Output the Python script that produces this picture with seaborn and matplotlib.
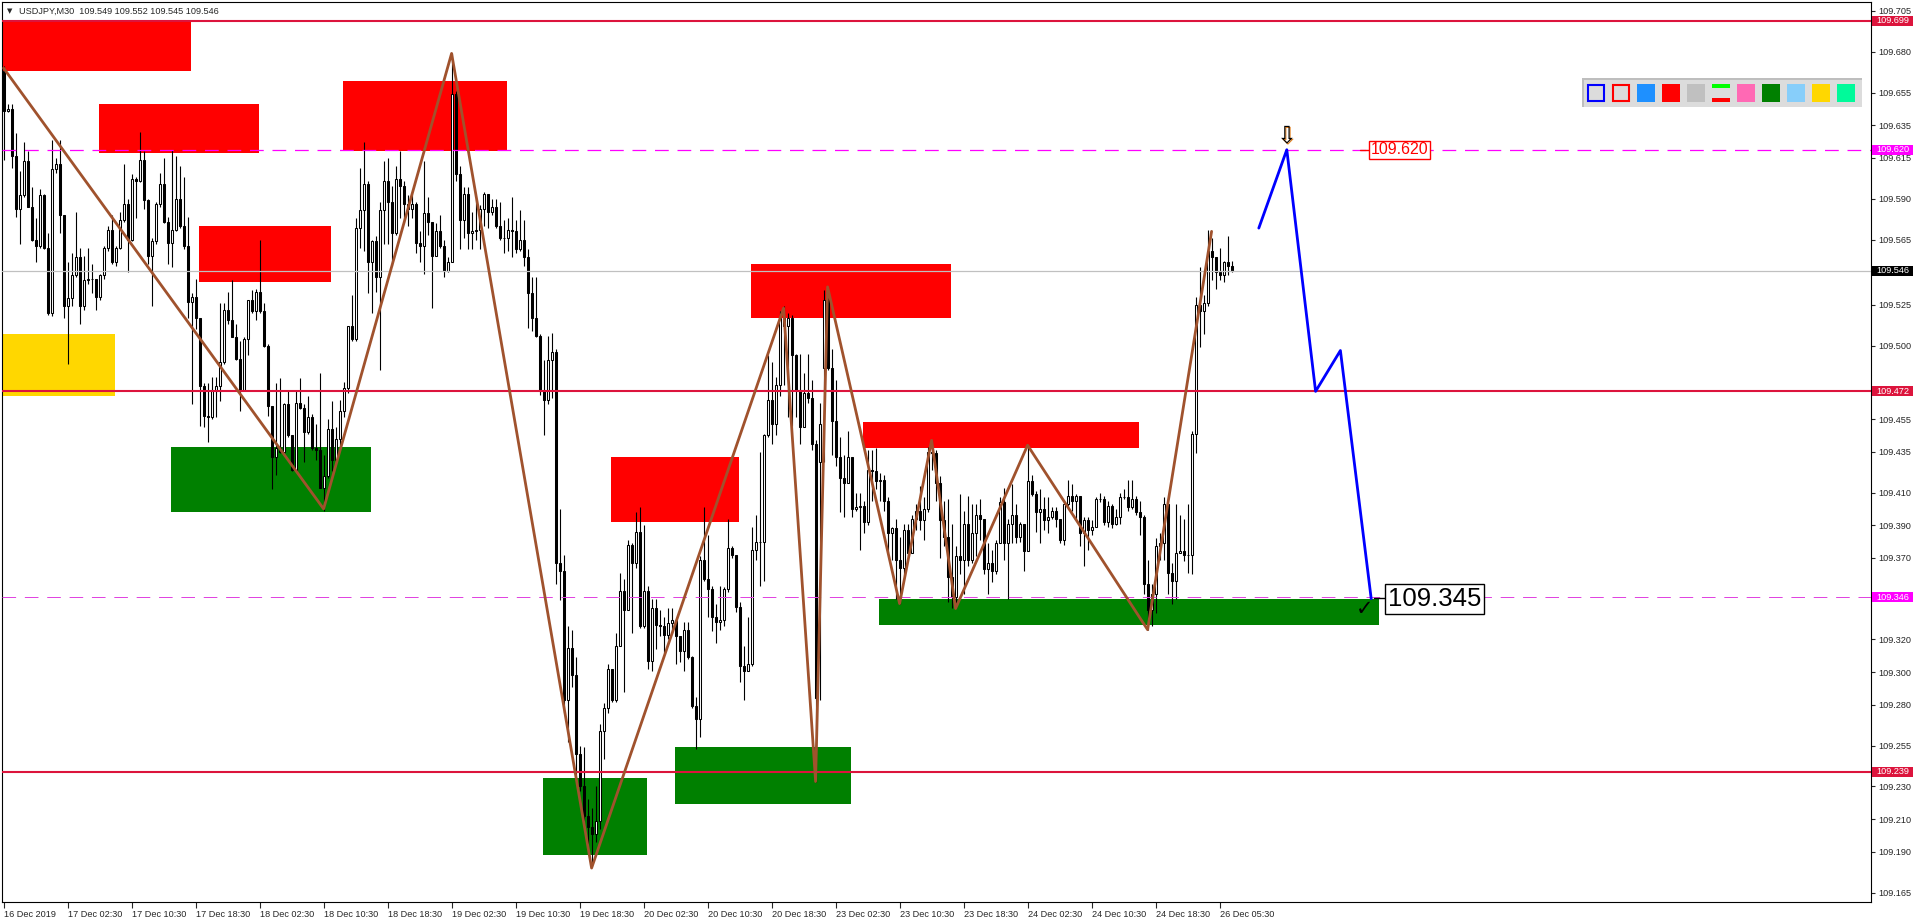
# %%
import numpy as np
import pandas as pd
import seaborn as sns
import matplotlib.pyplot as plt
from matplotlib.patches import Rectangle
from matplotlib.transforms import blended_transform_factory

# %% USDJPY M30 bars (bar 0 = 16 Dec 18:30)
opens = [
    109.668, 109.644, 109.645, 109.616, 109.584, 109.592, 109.613, 109.585, 109.565, 109.561,
    109.592, 109.560, 109.520, 109.608, 109.611, 109.580, 109.524, 109.529, 109.543, 109.554,
    109.524, 109.540, 109.541, 109.541, 109.530, 109.543, 109.560, 109.571, 109.551, 109.560,
    109.577, 109.587, 109.565, 109.602, 109.601, 109.614, 109.589, 109.555, 109.564, 109.587,
    109.599, 109.576, 109.563, 109.571, 109.590, 109.573, 109.561, 109.527, 109.530, 109.517,
    109.475, 109.457, 109.456, 109.472, 109.475, 109.490, 109.522, 109.516, 109.505, 109.492,
    109.473, 109.504, 109.528, 109.521, 109.533, 109.521, 109.500, 109.463, 109.432, 109.437,
    109.435, 109.464, 109.445, 109.424, 109.465, 109.462, 109.447, 109.456, 109.437, 109.436,
    109.413, 109.420, 109.449, 109.430, 109.443, 109.460, 109.474, 109.512, 109.504, 109.572,
    109.583, 109.599, 109.551, 109.564, 109.542, 109.583, 109.601, 109.588, 109.569, 109.602,
    109.598, 109.587, 109.584, 109.587, 109.563, 109.561, 109.581, 109.576, 109.555, 109.570,
    109.561, 109.546, 109.551, 109.654, 109.605, 109.577, 109.593, 109.569, 109.570, 109.571,
    109.584, 109.593, 109.582, 109.585, 109.573, 109.566, 109.566, 109.571, 109.570, 109.559,
    109.565, 109.554, 109.532, 109.517, 109.506, 109.472, 109.467, 109.491, 109.496, 109.367,
    109.362, 109.283, 109.315, 109.298, 109.250, 109.230, 109.212, 109.205, 109.201, 109.209,
    109.264, 109.278, 109.302, 109.283, 109.316, 109.350, 109.338, 109.378, 109.367, 109.386,
    109.328, 109.350, 109.307, 109.339, 109.329, 109.328, 109.323, 109.330, 109.332, 109.322,
    109.313, 109.326, 109.309, 109.279, 109.271, 109.369, 109.357, 109.351, 109.334, 109.331,
    109.332, 109.351, 109.376, 109.372, 109.340, 109.304, 109.301, 109.305, 109.375, 109.380,
    109.380, 109.445, 109.467, 109.452, 109.476, 109.517, 109.512, 109.517, 109.494, 109.473,
    109.450, 109.471, 109.468, 109.440, 109.429, 109.486, 109.528, 109.486, 109.454, 109.432,
    109.419, 109.416, 109.432, 109.400, 109.401, 109.402, 109.392, 109.424, 109.423, 109.417,
    109.418, 109.405, 109.385, 109.388, 109.369, 109.364, 109.387, 109.373, 109.394, 109.399,
    109.393, 109.400, 109.435, 109.434, 109.416, 109.393, 109.383, 109.358, 109.346, 109.371,
    109.369, 109.391, 109.369, 109.385, 109.396, 109.394, 109.363, 109.367, 109.362, 109.379,
    109.404, 109.379, 109.391, 109.396, 109.383, 109.391, 109.374, 109.417, 109.409, 109.398,
    109.400, 109.393, 109.395, 109.399, 109.394, 109.381, 109.403, 109.408, 109.405, 109.408,
    109.385, 109.393, 109.387, 109.389, 109.406, 109.406, 109.392, 109.402, 109.391, 109.395,
    109.407, 109.407, 109.401, 109.406, 109.398, 109.395, 109.354, 109.338, 109.348, 109.377,
    109.379, 109.403, 109.361, 109.356, 109.373, 109.374, 109.372, 109.372, 109.446, 109.525,
    109.521, 109.526, 109.558, 109.554, 109.545, 109.543, 109.551, 109.549]
highs = [
    109.671, 109.648, 109.648, 109.630, 109.607, 109.625, 109.619, 109.597, 109.578, 109.596,
    109.593, 109.569, 109.626, 109.615, 109.626, 109.580, 109.551, 109.557, 109.582, 109.560,
    109.555, 109.560, 109.550, 109.541, 109.544, 109.561, 109.573, 109.580, 109.561, 109.582,
    109.611, 109.590, 109.605, 109.603, 109.631, 109.619, 109.590, 109.566, 109.588, 109.606,
    109.615, 109.579, 109.620, 109.616, 109.610, 109.603, 109.579, 109.532, 109.541, 109.517,
    109.477, 109.477, 109.481, 109.481, 109.526, 109.526, 109.533, 109.540, 109.513, 109.503,
    109.505, 109.528, 109.534, 109.535, 109.565, 109.526, 109.501, 109.463, 109.477, 109.480,
    109.465, 109.472, 109.445, 109.473, 109.480, 109.464, 109.469, 109.458, 109.452, 109.483,
    109.433, 109.455, 109.466, 109.450, 109.467, 109.478, 109.512, 109.531, 109.578, 109.609,
    109.625, 109.601, 109.565, 109.567, 109.588, 109.613, 109.615, 109.598, 109.610, 109.619,
    109.601, 109.592, 109.593, 109.588, 109.570, 109.613, 109.591, 109.576, 109.575, 109.580,
    109.565, 109.554, 109.679, 109.656, 109.610, 109.597, 109.597, 109.582, 109.590, 109.586,
    109.594, 109.593, 109.590, 109.590, 109.588, 109.577, 109.578, 109.591, 109.577, 109.583,
    109.577, 109.559, 109.542, 109.542, 109.507, 109.491, 109.506, 109.508, 109.498, 109.400,
    109.372, 109.328, 109.326, 109.309, 109.255, 109.254, 109.222, 109.217, 109.230, 109.268,
    109.281, 109.305, 109.302, 109.324, 109.361, 109.357, 109.381, 109.379, 109.398, 109.401,
    109.390, 109.353, 109.345, 109.345, 109.338, 109.334, 109.339, 109.339, 109.332, 109.322,
    109.331, 109.331, 109.310, 109.285, 109.371, 109.401, 109.384, 109.353, 109.342, 109.353,
    109.352, 109.394, 109.377, 109.372, 109.343, 109.316, 109.334, 109.389, 109.396, 109.435,
    109.446, 109.494, 109.490, 109.481, 109.521, 109.524, 109.520, 109.519, 109.495, 109.495,
    109.483, 109.495, 109.479, 109.442, 109.465, 109.534, 109.536, 109.498, 109.479, 109.444,
    109.433, 109.448, 109.432, 109.410, 109.410, 109.405, 109.436, 109.436, 109.437, 109.422,
    109.421, 109.407, 109.389, 109.394, 109.383, 109.391, 109.391, 109.396, 109.403, 109.414,
    109.407, 109.438, 109.442, 109.436, 109.420, 109.405, 109.406, 109.391, 109.377, 109.409,
    109.399, 109.408, 109.403, 109.403, 109.406, 109.394, 109.379, 109.375, 109.381, 109.407,
    109.413, 109.394, 109.415, 109.403, 109.392, 109.390, 109.439, 109.421, 109.411, 109.412,
    109.407, 109.407, 109.401, 109.401, 109.394, 109.404, 109.418, 109.415, 109.409, 109.407,
    109.395, 109.395, 109.393, 109.407, 109.410, 109.408, 109.405, 109.403, 109.400, 109.410,
    109.412, 109.418, 109.418, 109.408, 109.405, 109.396, 109.369, 109.354, 109.382, 109.385,
    109.407, 109.403, 109.367, 109.403, 109.396, 109.394, 109.403, 109.448, 109.530, 109.548,
    109.531, 109.571, 109.566, 109.552, 109.560, 109.552, 109.567, 109.552]
lows = [
    109.614, 109.643, 109.609, 109.579, 109.562, 109.591, 109.585, 109.564, 109.551, 109.560,
    109.559, 109.519, 109.518, 109.606, 109.569, 109.517, 109.489, 109.524, 109.542, 109.513,
    109.522, 109.538, 109.532, 109.522, 109.528, 109.541, 109.558, 109.550, 109.549, 109.559,
    109.576, 109.545, 109.564, 109.578, 109.600, 109.584, 109.550, 109.524, 109.562, 109.585,
    109.575, 109.550, 109.548, 109.570, 109.572, 109.559, 109.517, 109.464, 109.510, 109.451,
    109.450, 109.441, 109.455, 109.456, 109.466, 109.489, 109.513, 109.505, 109.491, 109.460,
    109.472, 109.494, 109.520, 109.516, 109.520, 109.499, 109.457, 109.412, 109.421, 109.434,
    109.434, 109.444, 109.423, 109.423, 109.461, 109.429, 109.446, 109.436, 109.430, 109.413,
    109.399, 109.419, 109.423, 109.427, 109.437, 109.456, 109.471, 109.503, 109.503, 109.560,
    109.558, 109.532, 109.520, 109.533, 109.485, 109.562, 109.562, 109.549, 109.568, 109.578,
    109.575, 109.573, 109.578, 109.557, 109.551, 109.544, 109.568, 109.523, 109.555, 109.560,
    109.542, 109.545, 109.551, 109.601, 109.559, 109.566, 109.559, 109.559, 109.565, 109.559,
    109.573, 109.572, 109.580, 109.572, 109.565, 109.557, 109.558, 109.554, 109.557, 109.558,
    109.549, 109.511, 109.509, 109.505, 109.470, 109.445, 109.464, 109.468, 109.354, 109.344,
    109.275, 109.257, 109.291, 109.232, 109.227, 109.209, 109.191, 109.181, 109.196, 109.204,
    109.247, 109.275, 109.282, 109.282, 109.316, 109.288, 109.338, 109.324, 109.364, 109.327,
    109.327, 109.302, 109.301, 109.314, 109.322, 109.312, 109.320, 109.324, 109.305, 109.306,
    109.301, 109.308, 109.278, 109.253, 109.260, 109.356, 109.334, 109.325, 109.318, 109.326,
    109.328, 109.349, 109.370, 109.337, 109.294, 109.283, 109.301, 109.304, 109.369, 109.353,
    109.356, 109.444, 109.440, 109.445, 109.469, 109.476, 109.456, 109.451, 109.456, 109.440,
    109.450, 109.465, 109.436, 109.233, 109.283, 109.429, 109.485, 109.433, 109.426, 109.398,
    109.395, 109.416, 109.395, 109.399, 109.375, 109.385, 109.390, 109.405, 109.412, 109.405,
    109.399, 109.373, 109.369, 109.345, 109.342, 109.359, 109.371, 109.373, 109.387, 109.387,
    109.381, 109.398, 109.424, 109.405, 109.370, 109.377, 109.343, 109.339, 109.339, 109.360,
    109.348, 109.365, 109.367, 109.371, 109.381, 109.360, 109.348, 109.355, 109.360, 109.379,
    109.369, 109.345, 109.379, 109.379, 109.380, 109.362, 109.374, 109.408, 109.386, 109.379,
    109.387, 109.385, 109.394, 109.389, 109.379, 109.378, 109.401, 109.399, 109.394, 109.377,
    109.365, 109.375, 109.384, 109.389, 109.404, 109.390, 109.389, 109.388, 109.390, 109.391,
    109.406, 109.399, 109.400, 109.396, 109.384, 109.348, 109.326, 109.328, 109.336, 109.369,
    109.369, 109.348, 109.342, 109.345, 109.373, 109.368, 109.361, 109.360, 109.434, 109.499,
    109.507, 109.524, 109.540, 109.535, 109.540, 109.539, 109.543, 109.545]
closes = [
    109.644, 109.645, 109.616, 109.584, 109.592, 109.613, 109.585, 109.565, 109.561, 109.592,
    109.560, 109.520, 109.608, 109.611, 109.580, 109.524, 109.529, 109.543, 109.554, 109.524,
    109.540, 109.541, 109.541, 109.530, 109.543, 109.560, 109.571, 109.551, 109.560, 109.577,
    109.587, 109.565, 109.602, 109.601, 109.614, 109.589, 109.555, 109.564, 109.587, 109.599,
    109.576, 109.563, 109.571, 109.590, 109.573, 109.561, 109.527, 109.530, 109.517, 109.475,
    109.457, 109.456, 109.472, 109.475, 109.490, 109.522, 109.516, 109.505, 109.492, 109.473,
    109.504, 109.528, 109.521, 109.533, 109.521, 109.500, 109.463, 109.432, 109.437, 109.435,
    109.464, 109.445, 109.424, 109.465, 109.462, 109.447, 109.456, 109.437, 109.436, 109.413,
    109.420, 109.449, 109.430, 109.443, 109.460, 109.474, 109.512, 109.504, 109.572, 109.583,
    109.599, 109.551, 109.564, 109.542, 109.583, 109.601, 109.588, 109.569, 109.602, 109.598,
    109.587, 109.584, 109.587, 109.563, 109.561, 109.581, 109.576, 109.555, 109.570, 109.561,
    109.546, 109.551, 109.654, 109.605, 109.577, 109.593, 109.569, 109.570, 109.571, 109.584,
    109.593, 109.582, 109.585, 109.573, 109.566, 109.566, 109.571, 109.570, 109.559, 109.565,
    109.554, 109.532, 109.517, 109.506, 109.472, 109.467, 109.491, 109.496, 109.367, 109.362,
    109.283, 109.315, 109.298, 109.250, 109.230, 109.212, 109.205, 109.201, 109.209, 109.264,
    109.278, 109.302, 109.283, 109.316, 109.350, 109.338, 109.378, 109.367, 109.386, 109.328,
    109.350, 109.307, 109.339, 109.329, 109.328, 109.323, 109.330, 109.332, 109.322, 109.313,
    109.326, 109.309, 109.279, 109.271, 109.369, 109.357, 109.351, 109.334, 109.331, 109.332,
    109.351, 109.376, 109.372, 109.340, 109.304, 109.301, 109.305, 109.375, 109.380, 109.380,
    109.445, 109.467, 109.452, 109.476, 109.517, 109.512, 109.517, 109.494, 109.473, 109.450,
    109.471, 109.468, 109.440, 109.284, 109.452, 109.528, 109.486, 109.454, 109.432, 109.419,
    109.416, 109.432, 109.400, 109.401, 109.402, 109.392, 109.424, 109.423, 109.417, 109.418,
    109.405, 109.385, 109.388, 109.369, 109.364, 109.387, 109.373, 109.394, 109.399, 109.393,
    109.400, 109.435, 109.434, 109.416, 109.393, 109.383, 109.358, 109.346, 109.371, 109.369,
    109.391, 109.369, 109.385, 109.396, 109.394, 109.363, 109.367, 109.362, 109.379, 109.404,
    109.379, 109.391, 109.396, 109.383, 109.391, 109.374, 109.417, 109.409, 109.398, 109.400,
    109.393, 109.395, 109.399, 109.394, 109.381, 109.403, 109.408, 109.405, 109.408, 109.385,
    109.393, 109.387, 109.389, 109.406, 109.406, 109.392, 109.402, 109.391, 109.395, 109.407,
    109.407, 109.401, 109.406, 109.398, 109.395, 109.354, 109.338, 109.348, 109.377, 109.379,
    109.403, 109.361, 109.356, 109.373, 109.374, 109.372, 109.372, 109.446, 109.525, 109.521,
    109.526, 109.558, 109.554, 109.545, 109.543, 109.551, 109.549, 109.546]

time_ticks = [0, 16, 32, 48, 64, 80, 96, 112, 128, 144, 160, 176, 192, 208, 224, 240, 256, 272, 288, 304]
time_labels = ['16 Dec 2019', '17 Dec 02:30', '17 Dec 10:30', '17 Dec 18:30', '18 Dec 02:30',
               '18 Dec 10:30', '18 Dec 18:30', '19 Dec 02:30', '19 Dec 10:30', '19 Dec 18:30',
               '20 Dec 02:30', '20 Dec 10:30', '20 Dec 18:30', '23 Dec 02:30', '23 Dec 10:30',
               '23 Dec 18:30', '24 Dec 02:30', '24 Dec 10:30', '24 Dec 18:30', '26 Dec 05:30']
price_ticks = [109.705, 109.680, 109.655, 109.635, 109.615, 109.590, 109.565, 109.525, 109.500,
               109.455, 109.435, 109.410, 109.390, 109.370, 109.320, 109.300, 109.280,
               109.255, 109.230, 109.210, 109.190, 109.165]

# zones: (first bar, last bar, low, high)
supply_zones = [(-0.5, 46.9, 109.668, 109.699), (23.85, 63.9, 109.618, 109.648),
                (48.9, 81.9, 109.539, 109.573), (84.8, 125.8, 109.619, 109.662),
                (151.9, 183.9, 109.392, 109.432), (186.9, 236.9, 109.517, 109.550),
                (214.9, 283.9, 109.437, 109.453)]
demand_zones = [(41.9, 91.8, 109.398, 109.438), (134.9, 160.9, 109.188, 109.235),
                (167.9, 211.9, 109.219, 109.254), (218.9, 343.9, 109.329, 109.345)]
range_zones = [(-0.5, 27.9, 109.469, 109.507)]

level_lines = [109.699, 109.472, 109.239]
target_lines = [109.620, 109.346]
bid_price = 109.546
price_tags = [(109.699, '#DC143C'), (109.620, '#FF00FF'), (109.546, '#000000'),
              (109.472, '#DC143C'), (109.346, '#FF00FF'), (109.239, '#DC143C')]

zigzag_bars = [0, 80, 112, 147, 195, 203, 206, 224, 232, 238, 256, 286, 302]
zigzag_prices = [109.670, 109.400, 109.679, 109.180, 109.523, 109.233, 109.536,
                 109.342, 109.442, 109.339, 109.439, 109.326, 109.570]

proj_bars = [313.8, 320.8, 328.0, 334.2, 341.9]
proj_prices = [109.572, 109.620, 109.472, 109.497, 109.345]

toolbar_colors = ['#0000FF', '#FF0000', '#1E90FF', '#FF0000', '#C0C0C0', 'split',
                  '#FF69B4', '#008000', '#87CEFA', '#FFD700', '#00FA9A']

# %%
W, H = 1916, 923
sns.set_style('white')
plt.rcParams['font.family'] = ['Liberation Sans', 'DejaVu Sans']

fig = plt.figure(figsize=(W / 100, H / 100), dpi=100)
fig.patch.set_facecolor('white')
ax = fig.add_axes([2 / W, 21 / H, 1869 / W, 900 / H])
ax.set_xlim(-0.4, 466.85)
ax.set_ylim(109.1592, 109.7105)

for zones, col in [(supply_zones, '#FF0000'), (demand_zones, '#008000'), (range_zones, '#FFD700')]:
    for x0, x1, lo, hi in zones:
        ax.add_patch(Rectangle((x0, lo), x1 - x0, hi - lo, fc=col, ec='none', zorder=1))

bars = pd.DataFrame({'open': opens, 'high': highs, 'low': lows, 'close': closes})
bars['bar'] = np.arange(len(bars))
up = bars['close'] >= bars['open']
ax.vlines(bars['bar'], bars['low'], bars['high'], colors='black', lw=0.8, zorder=3)
ax.bar(bars['bar'], (bars['close'] - bars['open']).abs(),
       bottom=np.minimum(bars['open'], bars['close']), width=0.5,
       color=np.where(up, 'white', 'black'), edgecolor='black', linewidth=0.75, zorder=4)

for p in level_lines:
    ax.axhline(p, color='#DC143C', lw=1.5, zorder=5)
ax.axhline(target_lines[0], color='#FF00FF', lw=0.9, dashes=(11, 7), zorder=5)
ax.axhline(target_lines[1], color='#E040E0', lw=0.7, dashes=(14, 9), zorder=5)
ax.axhline(bid_price, color='#C0C0C0', lw=0.9, zorder=5)

sns.lineplot(x=zigzag_bars, y=zigzag_prices, sort=False, estimator=None,
             color='#A0522D', linewidth=2, ax=ax, zorder=6)
sns.lineplot(x=proj_bars, y=proj_prices, sort=False, estimator=None,
             color='#0000FF', linewidth=2, ax=ax, zorder=6)

# target marks
ax.text(proj_bars[1] + 0.2, 109.6285, '\u21e9', ha='center', va='center', fontsize=17,
        color='#E08020', family='DejaVu Sans', zorder=7)
ax.text(proj_bars[1], 109.629, '\u21e9', ha='center', va='center', fontsize=17,
        color='black', family='DejaVu Sans', zorder=7)
ax.plot([339.0, 341.6], [109.620, 109.620], color='red', lw=1, zorder=7)
ax.text(341.8, 109.620, '109.620', ha='left', va='center', fontsize=11.5, color='red', zorder=8,
        bbox=dict(boxstyle='square,pad=0.1', fc='white', ec='red', lw=1))
ax.plot([342.6, 345.9], [109.3454, 109.3454], color='black', lw=1, zorder=7)
ax.text(346.1, 109.3446, '109.345', ha='left', va='center', fontsize=18.5, color='black', zorder=8,
        bbox=dict(boxstyle='square,pad=0.12', fc='white', ec='black', lw=1))
ax.text(340.2, 109.3386, '\u2713', ha='center', va='center', fontsize=15, color='black',
        family='DejaVu Sans', zorder=8)

# axes look
ax.set_xlabel('')
ax.set_ylabel('')
for s in ax.spines.values():
    s.set_visible(True)
    s.set_color('black')
    s.set_linewidth(0.8)
ax.yaxis.tick_right()
ax.set_yticks(price_ticks)
ax.set_yticklabels([f'{p:.3f}' for p in price_ticks])
ax.tick_params(axis='y', right=True, direction='out', length=3, width=0.8, labelsize=6.6, pad=2)
ax.set_xticks(time_ticks)
ax.set_xticklabels(time_labels, ha='left')
ax.tick_params(axis='x', bottom=True, direction='out', length=4, width=0.8, labelsize=6.6, pad=2)

trans = blended_transform_factory(ax.transAxes, ax.transData)
tag_h = 10 / 1632.6
for p, col in price_tags:
    ax.add_patch(Rectangle((1 + 1 / 1869, p - tag_h / 2), 41 / 1869, tag_h, transform=trans,
                           fc=col, ec='none', clip_on=False, zorder=10))
    ax.text(1 + 5 / 1869, p, f'{p:.3f}', transform=trans, ha='left', va='center',
            fontsize=6.6, color='white', zorder=11, clip_on=False)

# header
fig.text(7 / W, 1 - 11 / H, '\u25bc', fontsize=5, va='center', ha='left', family='DejaVu Sans')
fig.text(19 / W, 1 - 11 / H, 'USDJPY,M30  109.549 109.552 109.545 109.546',
         fontsize=6.6, va='center', ha='left')


# colour toolbar, top right
def px_rect(x, y, w, h, **kw):
    fig.patches.append(Rectangle((x / W, 1 - (y + h) / H), w / W, h / H,
                                 transform=fig.transFigure, figure=fig, **kw))


px_rect(1582, 78, 280, 29, fc='#DCDCDC', ec='none', zorder=20)
px_rect(1582, 78, 280, 2, fc='#BEBEBE', ec='none', zorder=21)
px_rect(1582, 78, 2, 29, fc='#BEBEBE', ec='none', zorder=21)
for k, col in enumerate(toolbar_colors):
    x = 1587 + 25 * k
    if k < 2:
        px_rect(x + 1, 85, 16, 16, fc='none', ec=col, lw=1.5, zorder=22)
    elif col == 'split':
        px_rect(x, 84, 18, 4, fc='#00FF00', ec='none', zorder=22)
        px_rect(x, 98, 18, 4, fc='#FF0000', ec='none', zorder=22)
    else:
        px_rect(x, 84, 18, 18, fc=col, ec='none', zorder=22)

fig.savefig('out.png', dpi=100, facecolor='white')
